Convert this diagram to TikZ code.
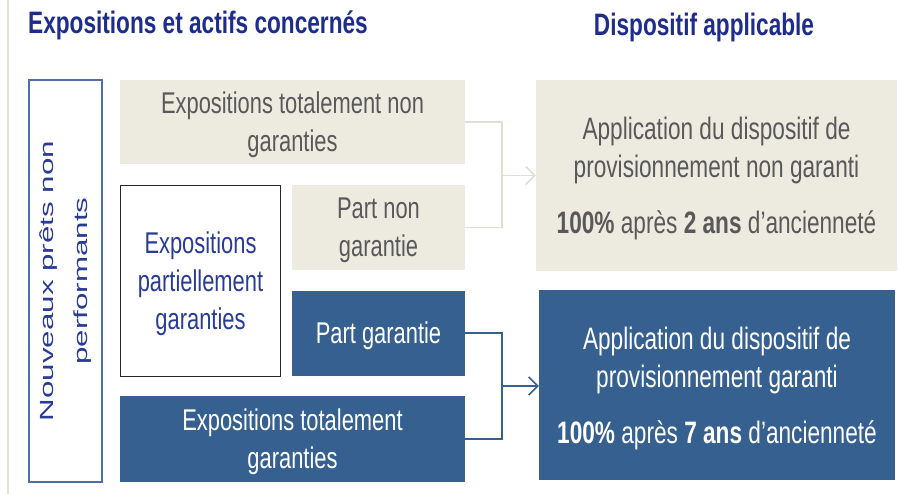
\documentclass[tikz,border=0pt]{standalone}
\usepackage{fontspec}
\setmainfont{Liberation Sans}[FakeStretch=0.73]
\newfontfamily\rotfont{Liberation Sans}[FakeStretch=1.65]
\usetikzlibrary{arrows.meta,positioning,calc}

\definecolor{titleblue}{RGB}{30,45,140}
\definecolor{textblue}{RGB}{40,60,150}
\definecolor{boxblue}{RGB}{54,96,143}
\definecolor{beige}{RGB}{237,234,224}
\definecolor{beigeline}{RGB}{226,223,210}
\definecolor{beigetext}{RGB}{89,89,89}
\definecolor{frameblue}{RGB}{80,110,165}

\tikzset{
  cell/.style={inner sep=0pt,align=center,text depth=0pt,font=\fontsize{30}{38}\selectfont},
  light/.style={cell,fill=beige,text=beigetext},
  dark/.style={cell,fill=boxblue,text=white},
  wide/.style={text depth=-4pt,font=\fontsize{31}{38}\selectfont},
  title/.style={inner sep=0pt,text=titleblue,font=\fontsize{31}{34}\selectfont\bfseries},
  tip/.style={-{Straight Barb[length=9pt,width=18pt]}},
}

\begin{document}
\begin{tikzpicture}[x=1pt,y=-1pt]
                \useasboundingbox[fill=white] (0,0) rectangle (899,494);
                \draw[beigeline,line width=2pt] (8,0) -- (8,494);

                % Titles
                \node[title,anchor=west] (tl) at (28,25) {Expositions et actifs concernés};
                \node[title] (tr) at (704,27) {Dispositif applicable};

                % Left column
                \node[draw=frameblue,line width=1.5pt,fill=white,rotate=90,minimum width=402,minimum height=73,align=center,text=textblue,font=\rotfont\fontsize{19}{34}\selectfont] (npl) at (65.5,281) {Nouveaux prêts non\\performants};
                \node[cell,draw=black!85,line width=1.5pt,fill=white,text=textblue,minimum width=160,minimum height=191] (epg) at (200.5,281) {Expositions\\partiellement\\garanties};

                % Exposures
                \node[light,minimum width=345,minimum height=84] (nng) at (292.5,122) {Expositions totalement non\\garanties};
                \node[light,minimum width=173,minimum height=85] (png) at (378.5,227.5) {Part non\\garantie};
                \node[dark,minimum width=173,minimum height=85] (pg) at (378.5,333) {Part garantie};
                \node[dark,minimum width=345,minimum height=86] (tg) at (292.5,439) {Expositions totalement\\garanties};

                % Provisions
                \node[light,wide,minimum width=361,minimum height=191] (dng) at (716.5,175.5) {Application du dispositif de\\provisionnement non garanti\\[18pt]\textbf{100\%} après \textbf{2 ans} d’ancienneté};
                \node[dark,wide,minimum width=356,minimum height=190] (dg) at (717,385) {Application du dispositif de\\provisionnement garanti\\[18pt]\textbf{100\%} après \textbf{7 ans} d’ancienneté};

                % Connectors
                \coordinate (jng) at (502,175.5);
                \coordinate (jg) at (502,386);
                \draw[beigeline,line width=1.5pt] (nng.east) -| (jng) |- (png.east);
                \draw[beigeline,line width=1.5pt,tip] (jng) -- (dng.west);
                \draw[boxblue,line width=1.5pt] (pg.east) -| (jg) |- (tg.east);
                \draw[boxblue,line width=1.5pt,tip] (jg) -- (jg -| dg.west);
\end{tikzpicture}
\end{document}
